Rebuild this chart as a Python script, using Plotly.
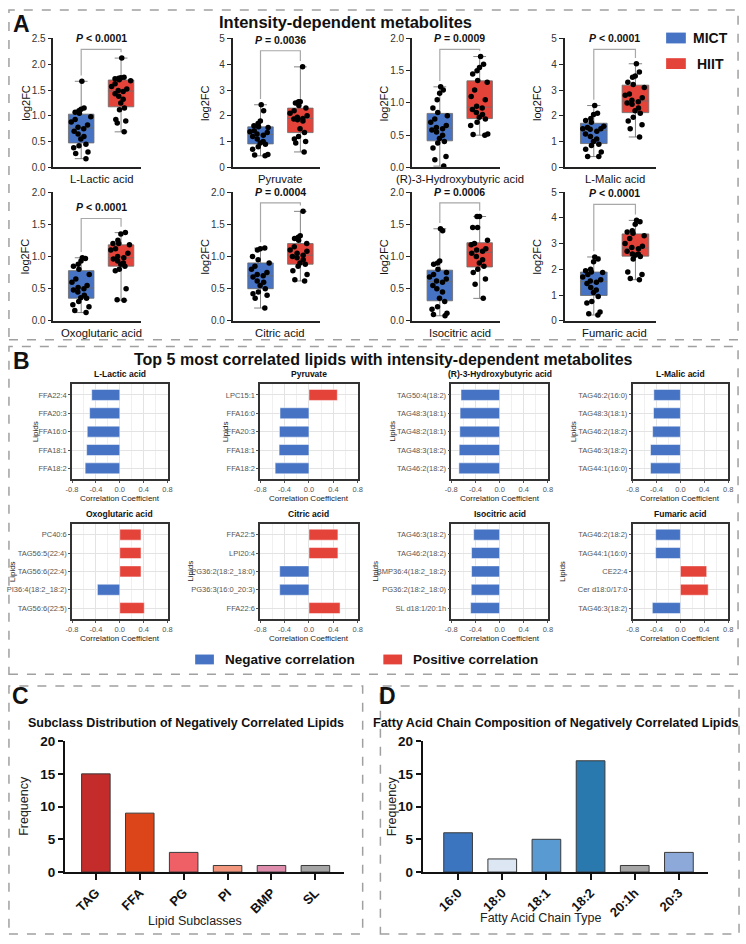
import numpy as np
import plotly.graph_objects as go

W, H = 746, 944
FONT = "Liberation Sans, Arial, sans-serif"
BLUE = "#4673C3"
RED = "#E4433A"

# ---------------- Panel A data ----------------
metabolites = ["L-Lactic acid", "Pyruvate", "(R)-3-Hydroxybutyric acid", "L-Malic acid",
               "Oxoglutaric acid", "Citric acid", "Isocitric acid", "Fumaric acid"]
p_labels = ["< 0.0001", "= 0.0036", "= 0.0009", "< 0.0001",
            "< 0.0001", "= 0.0004", "= 0.0006", "< 0.0001"]
y_max = [2.5, 5, 2.0, 5, 2.0, 2.0, 2.0, 5]
y_dtick = [0.5, 1, 0.5, 1, 0.5, 0.5, 0.5, 1]
group_names = ["MICT", "HIIT"]

lactic_mict = [1.67, 1.15, 1.13, 1.10, 1.07, 1.05, 0.98, 0.93, 0.88, 0.82, 0.78,
               0.75, 0.70, 0.65, 0.60, 0.55, 0.45, 0.42, 0.38, 0.30, 0.27, 0.17]
lactic_hiit = [2.12, 1.75, 1.74, 1.73, 1.72, 1.70, 1.68, 1.62, 1.57, 1.52, 1.49,
               1.47, 1.43, 1.38, 1.32, 1.25, 1.15, 1.12, 0.93, 0.90, 0.86, 0.69]
pyruvate_mict = [2.43, 2.20, 1.80, 1.70, 1.62, 1.58, 1.55, 1.42, 1.38, 1.35, 1.30,
                 1.25, 1.20, 1.10, 1.00, 0.95, 0.90, 0.80, 0.70, 0.50, 0.48, 0.45]
pyruvate_hiit = [3.90, 2.55, 2.55, 2.50, 2.40, 2.30, 2.20, 2.10, 2.00, 1.95, 1.90,
                 1.88, 1.85, 1.80, 1.50, 1.35, 1.20, 1.10, 1.00, 0.95, 0.60]
hb_mict = [1.25, 1.20, 1.15, 1.05, 0.92, 0.85, 0.80, 0.75, 0.70, 0.65, 0.62,
           0.60, 0.58, 0.55, 0.50, 0.45, 0.40, 0.38, 0.30, 0.17, 0.12, 0.02]
hb_hiit = [1.72, 1.60, 1.55, 1.50, 1.45, 1.35, 1.32, 1.20, 1.10, 1.05, 0.95,
           0.92, 0.90, 0.85, 0.82, 0.78, 0.75, 0.70, 0.65, 0.52, 0.51, 0.50]
malic_mict = [2.40, 2.10, 2.05, 1.90, 1.82, 1.75, 1.60, 1.55, 1.50, 1.50, 1.48,
              1.40, 1.30, 1.20, 1.10, 1.00, 0.90, 0.85, 0.70, 0.60, 0.42, 0.42]
malic_hiit = [4.02, 3.70, 3.55, 3.50, 3.30, 3.22, 3.10, 2.85, 2.80, 2.70, 2.60,
              2.55, 2.50, 2.45, 2.30, 2.20, 2.10, 1.95, 1.80, 1.65, 1.50, 1.18]
oxo_mict = [0.98, 0.97, 0.93, 0.88, 0.85, 0.80, 0.72, 0.65, 0.60, 0.55, 0.52,
            0.50, 0.48, 0.45, 0.40, 0.36, 0.35, 0.30, 0.25, 0.22, 0.16, 0.13]
oxo_hiit = [1.37, 1.35, 1.25, 1.20, 1.20, 1.18, 1.12, 1.10, 1.05, 1.00, 0.98,
            0.96, 0.93, 0.90, 0.88, 0.85, 0.80, 0.78, 0.50, 0.33, 0.32]
citric_mict = [1.13, 1.12, 1.10, 1.00, 0.95, 0.90, 0.85, 0.80, 0.75, 0.72, 0.70,
               0.68, 0.62, 0.60, 0.55, 0.50, 0.45, 0.42, 0.40, 0.35, 0.20]
citric_hiit = [1.70, 1.32, 1.30, 1.28, 1.25, 1.20, 1.15, 1.10, 1.08, 1.05, 1.02,
               1.00, 0.98, 0.95, 0.90, 0.88, 0.85, 0.78, 0.72, 0.64, 0.62]
iso_mict = [1.43, 1.40, 0.93, 0.90, 0.88, 0.80, 0.75, 0.72, 0.68, 0.65, 0.62,
            0.60, 0.55, 0.50, 0.45, 0.35, 0.30, 0.22, 0.18, 0.12, 0.10, 0.08]
iso_hiit = [1.62, 1.62, 1.45, 1.45, 1.25, 1.20, 1.18, 1.12, 1.10, 1.08, 1.05,
            1.00, 0.95, 0.90, 0.85, 0.80, 0.75, 0.65, 0.57, 0.35]
fum_mict = [2.48, 2.40, 2.30, 2.00, 1.95, 1.90, 1.88, 1.80, 1.70, 1.60, 1.55,
            1.50, 1.45, 1.30, 1.20, 1.10, 0.95, 0.75, 0.70, 0.35, 0.28, 0.23]
fum_hiit = [3.90, 3.85, 3.75, 3.50, 3.45, 3.40, 3.30, 3.20, 3.00, 2.90, 2.85,
            2.80, 2.70, 2.60, 2.60, 2.55, 2.50, 2.40, 1.90, 1.80, 1.65, 1.60]

mict_all = [lactic_mict, pyruvate_mict, hb_mict, malic_mict, oxo_mict, citric_mict, iso_mict, fum_mict]
hiit_all = [lactic_hiit, pyruvate_hiit, hb_hiit, malic_hiit, oxo_hiit, citric_hiit, iso_hiit, fum_hiit]

# ---------------- Panel B data ----------------
lactic_lipids = ["FFA22:4", "FFA20:3", "FFA16:0", "FFA18:1", "FFA18:2"]
lactic_r = [-0.47, -0.505, -0.545, -0.555, -0.58]
pyruvate_lipids = ["LPC15:1", "FFA16:0", "FFA20:3", "FFA18:1", "FFA18:2"]
pyruvate_r = [0.465, -0.475, -0.485, -0.49, -0.555]
hb_lipids = ["TAG50:4(18:2)", "TAG48:3(18:1)", "TAG48:2(18:1)", "TAG48:3(18:2)", "TAG46:2(18:2)"]
hb_r = [-0.64, -0.655, -0.66, -0.67, -0.675]
malic_lipids = ["TAG46:2(16:0)", "TAG48:3(18:1)", "TAG46:2(18:2)", "TAG46:3(18:2)", "TAG44:1(16:0)"]
malic_r = [-0.445, -0.45, -0.465, -0.5, -0.5]
oxo_lipids = ["PC40:6", "TAG56:5(22:4)", "TAG56:6(22:4)", "PI36:4(18:2_18:2)", "TAG56:6(22:5)"]
oxo_r = [0.355, 0.355, 0.355, -0.375, 0.41]
citric_lipids = ["FFA22:5", "LPI20:4", "PG36:2(18:2_18:0)", "PG36:3(16:0_20:3)", "FFA22:6"]
citric_r = [0.475, 0.475, -0.48, -0.48, 0.51]
iso_lipids = ["TAG46:3(18:2)", "TAG46:2(18:2)", "BMP36:4(18:2_18:2)", "PG36:2(18:2_18:0)", "SL d18:1/20:1h"]
iso_r = [-0.43, -0.465, -0.465, -0.47, -0.48]
fum_lipids = ["TAG46:2(18:2)", "TAG44:1(16:0)", "CE22:4", "Cer d18:0/17:0", "TAG46:3(18:2)"]
fum_r = [-0.415, -0.415, 0.44, 0.465, -0.47]

lipids_all = [lactic_lipids, pyruvate_lipids, hb_lipids, malic_lipids,
              oxo_lipids, citric_lipids, iso_lipids, fum_lipids]
r_all = [lactic_r, pyruvate_r, hb_r, malic_r, oxo_r, citric_r, iso_r, fum_r]
corr_ticks = [-0.8, -0.4, 0.0, 0.4, 0.8]

# ---------------- Panel C / D data ----------------
subclasses = ["TAG", "FFA", "PG", "PI", "BMP", "SL"]
subclass_freq = [15, 9, 3, 1, 1, 1]
subclass_colors = ["#C42B2B", "#DC4419", "#EE5F66", "#F2967E", "#DF8DAD", "#A5A5A5"]
chains = ["16:0", "18:0", "18:1", "18:2", "20:1h", "20:3"]
chain_freq = [6, 2, 5, 17, 1, 3]
chain_colors = ["#3B75C0", "#DCE7F3", "#5A9AD3", "#2A79AE", "#A6A6A6", "#8DA9DA"]


# ---------------- helpers ----------------
def PX(a):
    return a / W


def PY(b):
    return 1 - b / H


def xdom(a, b):
    return [a / W, b / W]


def ydom(top, bottom):
    return [1 - bottom / H, 1 - top / H]


def names(n):
    s = "" if n == 1 else str(n)
    return "x" + s, "y" + s, "xaxis" + s, "yaxis" + s


fig = go.Figure()
layout = {}
annotations = []
shapes = []

# ---------------- Panel A ----------------
A_cols = [(48, 137), (230, 319), (412, 501), (567, 660)]
A_rows = [(32, 163), (188, 319)]
for i, name in enumerate(metabolites):
    r, c = divmod(i, 4)
    n = i + 1
    xa, ya, xk, yk = names(n)
    x0, x1 = A_cols[c]
    yt, yb = A_rows[r]
    groups = [mict_all[i], hiit_all[i]]
    colors = [BLUE, RED]
    for g, (vals, col) in enumerate(zip(groups, colors)):
        v = np.array(vals, dtype=float)
        q1, med, q3 = np.percentile(v, [25, 50, 75])
        fig.add_trace(go.Box(
            x=[g], q1=[q1], median=[med], q3=[q3],
            lowerfence=[v.min()], upperfence=[v.max()],
            width=0.64, whiskerwidth=0.5, fillcolor=col, boxpoints=False,
            line=dict(color="rgba(110,110,110,0.85)", width=1),
            xaxis=xa, yaxis=ya, showlegend=False, hoverinfo="skip", name=group_names[g]))
        fig.add_trace(go.Box(
            y=v, x0=g, width=0.64, boxpoints="all", jitter=0.85, pointpos=0,
            fillcolor="rgba(0,0,0,0)", line=dict(width=0, color="rgba(0,0,0,0)"),
            marker=dict(color="black", size=5.5),
            xaxis=xa, yaxis=ya, showlegend=False, name=group_names[g]))
    # significance bracket
    ym = y_max[i]
    gmax = [max(mict_all[i]), max(hiit_all[i])]
    top = min(0.915 * ym, max(gmax) * 1.16)
    pad = 0.045 * ym
    fig.add_trace(go.Scatter(
        x=[0, 0, 1, 1], y=[gmax[0] + pad, top, top, gmax[1] + pad], mode="lines",
        line=dict(color="#a8a8a8", width=1.2), xaxis=xa, yaxis=ya,
        showlegend=False, hoverinfo="skip"))
    annotations.append(dict(
        x=0.5, y=top, xref=xa, yref=ya, yanchor="bottom", yshift=3, showarrow=False,
        text="<b><i>P</i> " + p_labels[i].replace("<", "&lt;") + "</b>",
        font=dict(size=10.5, color="#111", family=FONT)))
    layout[xk] = dict(domain=xdom(x0, x1), anchor=ya, range=[-0.7, 1.5],
                      showticklabels=False, ticks="", showgrid=False, zeroline=False,
                      showline=True, linecolor="#222", linewidth=1.5, fixedrange=True)
    layout[yk] = dict(domain=ydom(yt, yb), anchor=xa, range=[0, ym], dtick=y_dtick[i],
                      tickformat=".1f" if y_dtick[i] < 1 else "d",
                      ticks="outside", ticklen=4, tickwidth=1.3, tickcolor="#222",
                      showgrid=False, zeroline=False, showline=True, linecolor="#222",
                      linewidth=1.5, tickfont=dict(size=10, color="#333", family=FONT))
    annotations.append(dict(x=0.5, y=PY(yb + 12), xref=xa, yref="paper", showarrow=False,
                            text=name, font=dict(size=11.3, color="#111", family=FONT)))
    annotations.append(dict(x=PX(x0 - 28), y=PY((yt + yb) / 2), xref="paper", yref="paper",
                            showarrow=False, textangle=-90, text="log2FC",
                            font=dict(size=11, color="#111", family=FONT)))

# Panel A legend
for k, (lab, col) in enumerate(zip(group_names, [BLUE, RED])):
    ytop = 26 + 26 * k
    shapes.append(dict(type="rect", xref="paper", yref="paper", x0=PX(670), x1=PX(690),
                       y0=PY(ytop + 11), y1=PY(ytop), fillcolor=col, line=dict(width=0)))
    annotations.append(dict(x=PX(715), y=PY(ytop + 5.5), xref="paper", yref="paper",
                            showarrow=False, text="<b>" + lab + "</b>",
                            font=dict(size=14, color="#111", family=FONT)))

# ---------------- Panel B ----------------
B_cols = [(67, 164), (258, 357), (452, 550), (636, 733)]
B_rows = [(383, 480), (525, 622)]
for j, name in enumerate(metabolites):
    r, c = divmod(j, 4)
    n = 9 + j
    xa, ya, xk, yk = names(n)
    x0, x1 = B_cols[c]
    yt, yb = B_rows[r]
    vals = r_all[j]
    cols = [RED if v > 0 else BLUE for v in vals]
    fig.add_trace(go.Bar(
        y=lipids_all[j], x=vals, orientation="h", width=0.6,
        marker=dict(color=cols, line=dict(color="rgba(255,255,255,0.5)", width=1)),
        xaxis=xa, yaxis=ya, showlegend=False))
    layout[xk] = dict(domain=xdom(x0, x1), anchor=ya, range=[-0.8, 0.8],
                      tickvals=corr_ticks, ticktext=["-0.8", "-0.4", "0.0", "0.4", "0.8"],
                      ticks="outside", ticklen=2, tickcolor="#555",
                      tickfont=dict(size=7.5, color="#555", family=FONT),
                      showgrid=True, gridcolor="#e3e3e3", gridwidth=1,
                      minor=dict(dtick=0.2, showgrid=True, gridcolor="#f0f0f0"),
                      zeroline=False, showline=True, mirror=True,
                      linecolor="#333", linewidth=1.5)
    layout[yk] = dict(domain=ydom(yt, yb), anchor=xa, type="category",
                      categoryorder="array", categoryarray=lipids_all[j],
                      range=[4.6, -0.6], ticks="outside", ticklen=2, tickcolor="#555",
                      tickfont=dict(size=7.5, color="#555", family=FONT),
                      showgrid=True, gridcolor="#e3e3e3",
                      zeroline=False, showline=True, mirror=True,
                      linecolor="#333", linewidth=1.5)
    annotations.append(dict(x=PX((x0 + x1) / 2), y=PY(yt - 10), xref="paper", yref="paper",
                            showarrow=False, text="<b>" + name + "</b>",
                            font=dict(size=8.5, color="#111", family=FONT)))
    annotations.append(dict(x=PX((x0 + x1) / 2), y=PY(yb + 19.5), xref="paper", yref="paper",
                            showarrow=False, text="Correlation Coefficient",
                            font=dict(size=8, color="#222", family=FONT)))

# y-axis "Lipids" titles, left of each subplot's tick labels
lipid_title_x = [30, 223, 392, 576, 6, 187, 375, 565]
for j in range(8):
    r, c = divmod(j, 4)
    yt, yb = B_rows[r]
    annotations.append(dict(x=PX(lipid_title_x[j]), y=PY((yt + yb) / 2), xref="paper",
                            yref="paper", showarrow=False, textangle=-90, text="Lipids",
                            font=dict(size=8, color="#222", family=FONT)))

# Panel B legend
for lab, col, sx in [("Negative correlation", BLUE, 192), ("Positive correlation", RED, 383)]:
    shapes.append(dict(type="rect", xref="paper", yref="paper", x0=PX(sx), x1=PX(sx + 19),
                       y0=PY(668), y1=PY(658), fillcolor=col, line=dict(width=0)))
    annotations.append(dict(x=PX(sx + 28), y=PY(663), xref="paper", yref="paper",
                            xanchor="left", showarrow=False, text="<b>" + lab + "</b>",
                            font=dict(size=13.5, color="#111", family=FONT)))

# ---------------- Panels C and D ----------------
CD = [
    (17, subclasses, subclass_freq, subclass_colors, (60, 343), [-0.7, 5.65],
     "Subclass Distribution of Negatively Correlated Lipids", "Lipid Subclasses", 929, 18, 183, 192),
    (18, chains, chain_freq, chain_colors, (423, 713), [-0.8, 5.67],
     "Fatty Acid Chain Composition of Negatively Correlated Lipids", "Fatty Acid Chain Type", 926, 392, 558, 543),
]
for n, cats, freq, cols, (x0, x1), xr, title, xtitle, xty, ytx, tcx, xtx in CD:
    xa, ya, xk, yk = names(n)
    fig.add_trace(go.Bar(x=cats, y=freq, width=0.65,
                         marker=dict(color=cols, line=dict(color="#3a3a3a", width=1)),
                         xaxis=xa, yaxis=ya, showlegend=False))
    layout[xk] = dict(domain=xdom(x0, x1), anchor=ya, type="category", range=xr,
                      tickangle=-45, ticks="outside", ticklen=6, tickwidth=2, tickcolor="#111",
                      tickfont=dict(size=13, color="#111", family=FONT, weight="bold"),
                      showgrid=False, zeroline=False, showline=True,
                      linecolor="#111", linewidth=2.2)
    layout[yk] = dict(domain=ydom(746, 879), anchor=xa, range=[0, 20], dtick=5,
                      ticks="outside", ticklen=5, tickwidth=2, tickcolor="#111",
                      tickfont=dict(size=13.5, color="#111", family=FONT, weight="bold"),
                      showgrid=False, zeroline=False, showline=True,
                      linecolor="#111", linewidth=2.2)
    annotations.append(dict(x=PX(tcx), y=PY(728), xref="paper", yref="paper", showarrow=False,
                            text="<b>" + title + "</b>",
                            font=dict(size=12.5, color="#111", family=FONT)))
    annotations.append(dict(x=PX(xtx), y=PY(xty), xref="paper", yref="paper",
                            showarrow=False, text=xtitle,
                            font=dict(size=12.5, color="#222", family=FONT)))
    annotations.append(dict(x=PX(ytx), y=PY(812), xref="paper", yref="paper",
                            showarrow=False, textangle=-90, text="Frequency",
                            font=dict(size=12.5, color="#222", family=FONT)))

# ---------------- titles, panel letters, dashed boxes ----------------
annotations.append(dict(x=PX(345), y=PY(15), xref="paper", yref="paper", showarrow=False,
                        text="<b>Intensity-dependent metabolites</b>",
                        font=dict(size=16.5, color="#111", family=FONT)))
annotations.append(dict(x=PX(383), y=PY(358), xref="paper", yref="paper", showarrow=False,
                        text="<b>Top 5 most correlated lipids with intensity-dependent metabolites</b>",
                        font=dict(size=16, color="#111", family=FONT)))
for letter, lx, ly in [("A", 16, 17), ("B", 16, 360), ("C", 15, 700), ("D", 387, 700)]:
    annotations.append(dict(x=PX(lx), y=PY(ly), xref="paper", yref="paper", showarrow=False,
                            text="<b>" + letter + "</b>",
                            font=dict(size=23, color="#111", family=FONT)))

for a in annotations:
    a.setdefault("xanchor", "center")
    a.setdefault("yanchor", "middle")

for bx0, by0, bx1, by1 in [(3, 3, 743, 338), (3, 345, 743, 678), (3, 690, 362, 942), (380, 690, 744, 942)]:
    shapes.append(dict(type="rect", xref="paper", yref="paper", x0=PX(bx0), x1=PX(bx1),
                       y0=PY(by1), y1=PY(by0), line=dict(color="#a0a0a0", width=1.5, dash="dash"),
                       fillcolor="rgba(0,0,0,0)", layer="below"))

fig.update_layout(**layout)
fig.update_layout(
    width=W, height=H, margin=dict(l=0, r=0, t=0, b=0),
    paper_bgcolor="white", plot_bgcolor="white",
    font=dict(family=FONT, color="#111"),
    showlegend=False, boxmode="overlay", bargap=0.3,
    annotations=annotations, shapes=shapes,
)
fig.write_html("out.html")
